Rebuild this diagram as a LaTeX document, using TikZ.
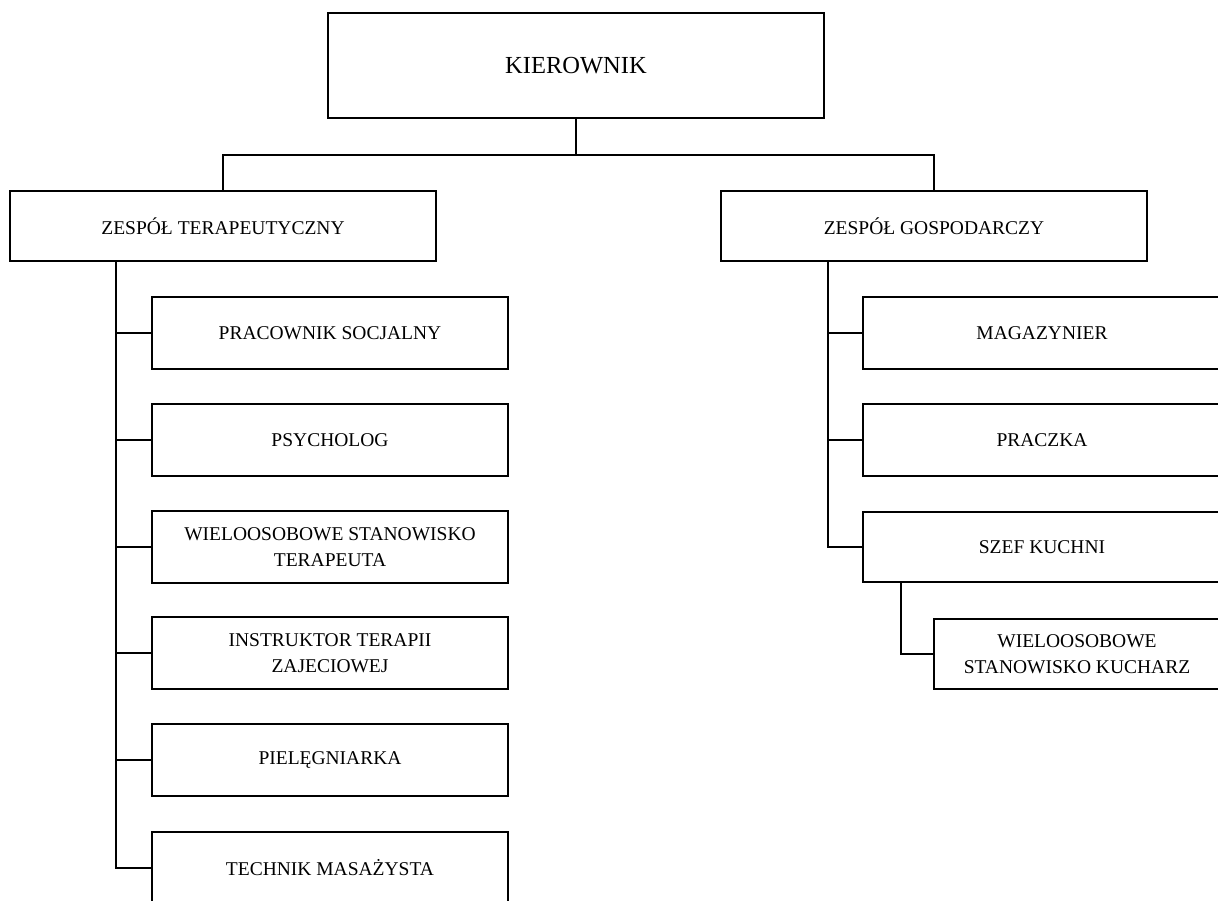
\documentclass[tikz,border=0pt]{standalone}
\usepackage{fontspec}
\setmainfont{Liberation Serif}
\begin{document}
\begin{tikzpicture}[x=1pt, y=-1pt, line width=1.6pt,
	box/.style={draw, inner sep=0, align=center, font=\fontsize{19.5}{26.5}\selectfont},
	kid/.style={box, minimum width=356pt, minimum height=72pt}]
	\useasboundingbox (0, 0) rectangle (1218, 900);
	\clip (0, 0) rectangle (1218, 900);

	\node [box, minimum width=496pt, minimum height=105pt, font=\fontsize{24.5}{28}\selectfont] (kier) at (576, 65.5) {KIEROWNIK};
	\node [box, minimum width=426pt, minimum height=70pt] (ter) at (223, 226) {ZESPÓŁ TERAPEUTYCZNY};
	\node [box, minimum width=426pt, minimum height=70pt] (gos) at (934, 226) {ZESPÓŁ GOSPODARCZY};

	\node [kid] (pra) at (330, 333) {PRACOWNIK SOCJALNY};
	\node [kid] (psy) at (330, 440) {PSYCHOLOG};
	\node [kid] (wie) at (330, 547) {WIELOOSOBOWE STANOWISKO\\TERAPEUTA};
	\node [kid] (ins) at (330, 653) {INSTRUKTOR TERAPII\\ZAJECIOWEJ};
	\node [kid] (pie) at (330, 760) {PIELĘGNIARKA};
	\node [kid] (tec) at (330, 868) {TECHNIK MASAŻYSTA};

	\node [kid, minimum width=358pt] (mag) at (1042, 333) {MAGAZYNIER};
	\node [kid, minimum width=358pt] (pcz) at (1042, 440) {PRACZKA};
	\node [kid, minimum width=358pt, minimum height=70pt] (szef) at (1042, 547) {SZEF KUCHNI};
	\node [kid, minimum width=286pt, minimum height=70pt] (kuc) at (1077, 654) {WIELOOSOBOWE\\STANOWISKO KUCHARZ};

	\draw (kier.south) -- ++(0, 36) coordinate (bus);
	\draw (bus) -| (ter.north);
	\draw (bus) -| (gos.north);

	\coordinate (tt) at ([xshift=-107pt]ter.south);
	\foreach \n in {pra, psy, wie, ins, pie, tec}
		\draw (tt) |- (\n.west);

	\coordinate (gt) at ([xshift=-106pt]gos.south);
	\foreach \n in {mag, pcz, szef}
		\draw (gt) |- (\n.west);

	\draw ([xshift=39pt]szef.south west) |- (kuc.west);
\end{tikzpicture}
\end{document}
